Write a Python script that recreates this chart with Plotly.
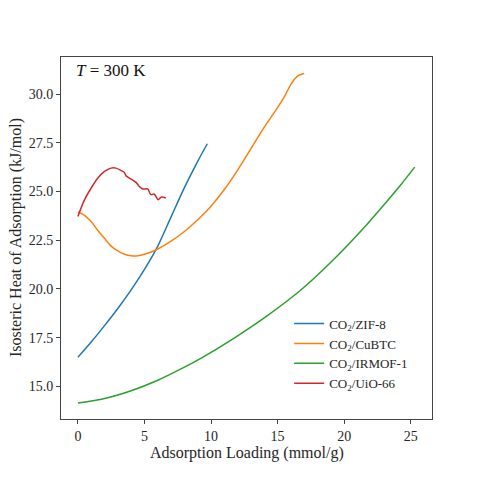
import plotly.graph_objects as go

# Isosteric heat of adsorption vs loading, T = 300 K
zif8_loading = [0, 1, 2, 3, 4, 5, 6, 7, 8, 9, 9.72]
zif8_heat = [16.5, 17.28, 18.12, 19.0, 19.95, 21.0, 22.2, 23.7, 25.2, 26.55, 27.45]

cubtc_loading = [0, 0.5, 1, 1.5, 2, 2.5, 3, 3.5, 4, 4.5, 5, 5.5, 6, 7, 8, 9, 10,
                 11, 12, 13, 14, 14.5, 15, 15.5, 16, 16.5, 17]
cubtc_heat = [23.95, 23.78, 23.45, 23.0, 22.6, 22.2, 21.95, 21.78, 21.7, 21.7, 21.78,
              21.9, 22.05, 22.45, 22.95, 23.55, 24.25, 25.1, 26.1, 27.2, 28.3, 28.8,
              29.3, 29.85, 30.5, 30.92, 31.05]

irmof1_loading = [0, 2, 4, 6, 8, 9.23, 11.71, 14.21, 16.7, 19.19, 21.69, 24.18, 25.3]
irmof1_heat = [14.15, 14.38, 14.78, 15.32, 15.99, 16.44, 17.47, 18.62, 19.92,
               21.5, 23.3, 25.28, 26.25]

uio66_loading = [0, 0.5, 1.0, 1.5, 2.0, 2.49, 2.86, 3.24, 3.49, 3.61, 3.99, 4.36,
                 4.61, 4.86, 5.24, 5.48, 5.73, 6.03, 6.28, 6.6]
uio66_heat = [23.72, 24.58, 25.18, 25.69, 26.03, 26.2, 26.2, 26.08, 25.98, 25.81,
              25.64, 25.47, 25.26, 25.13, 25.13, 24.84, 24.87, 24.58, 24.72, 24.67]

series = [
    ("CO<sub>2</sub>/ZIF-8", zif8_loading, zif8_heat, "#1f77b4"),
    ("CO<sub>2</sub>/CuBTC", cubtc_loading, cubtc_heat, "#ff7f0e"),
    ("CO<sub>2</sub>/IRMOF-1", irmof1_loading, irmof1_heat, "#2ca02c"),
    ("CO<sub>2</sub>/UiO-66", uio66_loading, uio66_heat, "#d62728"),
]

font_family = "Liberation Serif, DejaVu Serif, serif"
text_color = "#262626"

fig = go.Figure()
for name, xs, ys, color in series:
    fig.add_trace(go.Scatter(
        x=xs, y=ys, mode="lines", name=name,
        line=dict(color=color, width=1.5, shape="spline", smoothing=0.8)
    ))

axis_style = dict(
    showline=True, mirror=True, linecolor="#444444", linewidth=1,
    ticks="outside", ticklen=4, tickcolor="#444444",
    showgrid=False, zeroline=False, automargin=False,
    tickfont=dict(family=font_family, size=14, color=text_color),
)

fig.update_xaxes(range=[-1.27, 26.6], dtick=5, **axis_style)
fig.update_yaxes(range=[13.33, 31.9], dtick=2.5, tickformat=".1f", **axis_style)

# axis titles placed as annotations so their distance from the frame can be set
fig.add_annotation(
    x=0.5, y=-0.094, xref="paper", yref="paper", xanchor="center", yanchor="middle",
    text="Adsorption Loading (mmol/g)", showarrow=False,
    font=dict(family=font_family, size=16, color=text_color)
)
fig.add_annotation(
    x=-0.121, y=0.5, xref="paper", yref="paper", xanchor="center", yanchor="middle",
    text="Isosteric Heat of Adsorption (kJ/mol)", showarrow=False, textangle=-90,
    font=dict(family=font_family, size=16, color=text_color)
)
fig.add_annotation(
    x=0.035, y=0.995, xref="paper", yref="paper", xanchor="left", yanchor="top",
    text="<i>T</i> = 300 K", showarrow=False,
    font=dict(family=font_family, size=17, color="#111111")
)

# page body adds an 8px offset, so margins are shifted to compensate
fig.update_layout(
    width=480, height=480,
    margin=dict(l=53, r=56, t=49, b=69),
    plot_bgcolor="white", paper_bgcolor="white",
    font=dict(family=font_family, color=text_color),
    legend=dict(
        x=0.615, y=0.305, xanchor="left", yanchor="top",
        bgcolor="rgba(255,255,255,0.8)", borderwidth=0,
        font=dict(family=font_family, size=13, color=text_color),
        tracegroupgap=0, itemwidth=30,
    ),
)

fig.write_html("out.html")
